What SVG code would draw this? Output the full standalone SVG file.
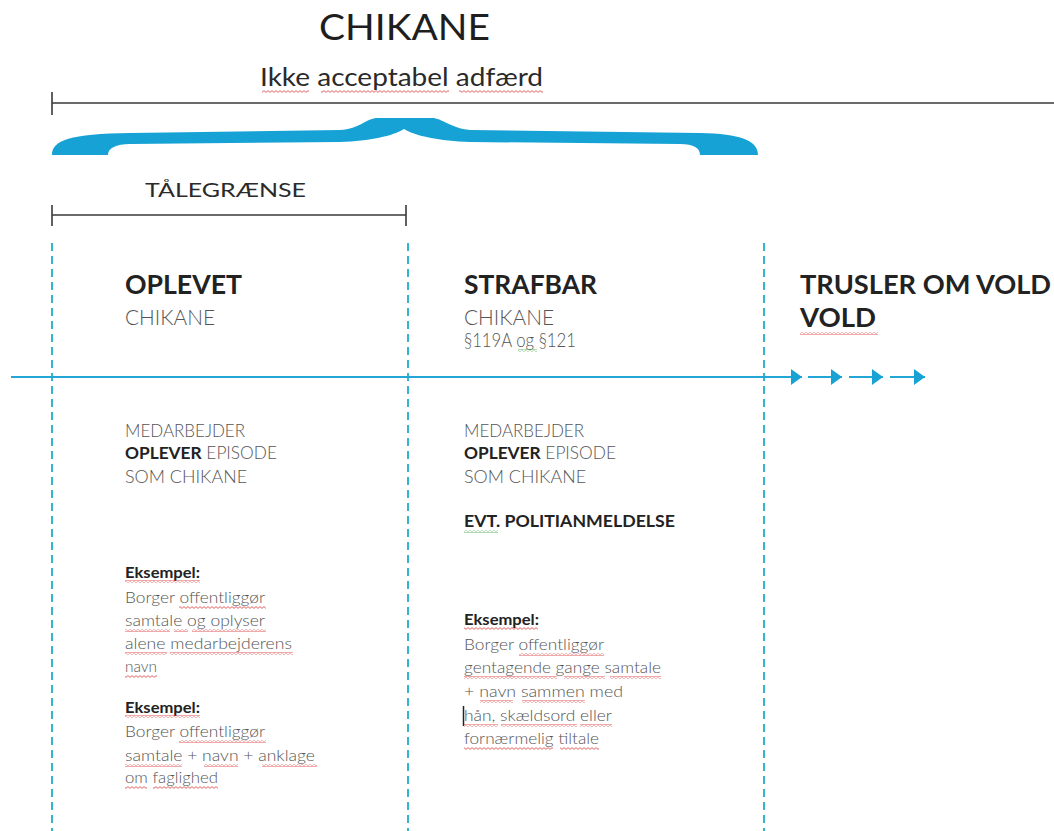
<svg xmlns="http://www.w3.org/2000/svg" width="1054" height="831" viewBox="0 0 1054 831">
<style>
text{font-family:Lato,"Open Sans","Liberation Sans",sans-serif}
.h{font-size:36px;fill:#1e1e1e}
.sub{font-size:25px;fill:#2a2a2a}
.tal{font-size:20px;fill:#2a2a2a}
.head{font-size:27px;font-weight:700;fill:#222}
.head2{font-size:22px;font-weight:300;fill:#555}
.para{font-size:19px;font-weight:300;fill:#555}
.cap{font-size:17.5px;font-weight:300;fill:#555}
.b{font-weight:700;fill:#222}
.evt{font-size:17.5px;font-weight:700;fill:#222}
.ex{font-size:16px;font-weight:700;fill:#222}
.body{font-size:16px;font-weight:300;fill:#555}
.rule{stroke:#3a3a3a;stroke-width:1.6;fill:none}
.dash{stroke:#35b4cf;stroke-width:2;stroke-dasharray:8 5;fill:none}
.tl{stroke:#22a6d6;stroke-width:2;fill:none}
.sq{fill:url(#wr)}
.sg{fill:url(#wg)}
</style>
<defs>
<marker id="ah" markerUnits="userSpaceOnUse" markerWidth="11" markerHeight="16" refX="11" refY="8" orient="auto">
<path d="M0,0 L11,8 L0,16 Z" fill="#18a3d4"/>
</marker>
<pattern id="wr" width="4" height="3" patternUnits="userSpaceOnUse">
<path d="M0,0.6 L2,2.4 L4,0.6" stroke="#dd3a3a" stroke-width="0.8" fill="none"/>
</pattern>
<pattern id="wg" width="4" height="3" patternUnits="userSpaceOnUse">
<path d="M0,0.6 L2,2.4 L4,0.6" stroke="#4caa4c" stroke-width="0.8" fill="none"/>
</pattern>
</defs>

<g id="title">
<text class="h" x="319" y="40" textLength="171" lengthAdjust="spacingAndGlyphs">CHIKANE</text>
<text class="sub" x="260" y="86" textLength="283" lengthAdjust="spacingAndGlyphs">Ikke acceptabel adfærd</text>
<rect class="sq" x="262" y="90" width="47" height="3"/>
<rect class="sq" x="321" y="90" width="128" height="3"/>
<rect class="sq" x="459" y="90" width="84" height="3"/>
<path class="rule" d="M52,103 H1054 M52,92 V115"/>
</g>

<g id="brace">
<path fill="#17a2d5" d="M52,155 C52,140 70,134 130,133 L340,130 C360,129 366,118 378,118 L432,118 C442,118 450,128 470,130 L700,133 C740,134 758,140 758,155 L700,155 C700,148 694,144 680,144 L470,142 C440,141 415,136 404,129 C393,136 370,141 340,142 L130,144 C116,144 108,148 108,155 Z"/>
</g>

<g id="taalegraense">
<text class="tal" x="145" y="197" textLength="161" lengthAdjust="spacingAndGlyphs">TÅLEGRÆNSE</text>
<path class="rule" d="M52,215 H406 M52,205 V226 M406,205 V226"/>
</g>

<g id="dividers">
<path class="dash" d="M52,243 V831"/>
<path class="dash" d="M408,243 V831"/>
<path class="dash" d="M764,243 V831"/>
</g>

<g id="connectors">
<line class="tl" x1="11" y1="377" x2="802" y2="377" marker-end="url(#ah)"/>
<line class="tl" x1="808" y1="377" x2="842" y2="377" marker-end="url(#ah)"/>
<line class="tl" x1="849" y1="377" x2="883" y2="377" marker-end="url(#ah)"/>
<line class="tl" x1="890" y1="377" x2="925" y2="377" marker-end="url(#ah)"/>
</g>

<g id="col-oplevet">
<text class="head" x="125" y="294" textLength="117" lengthAdjust="spacingAndGlyphs">OPLEVET</text>
<text class="head2" x="125" y="325" textLength="90" lengthAdjust="spacingAndGlyphs">CHIKANE</text>
<text class="cap" x="125" y="437" textLength="120" lengthAdjust="spacingAndGlyphs">MEDARBEJDER</text>
<text class="cap" x="125" y="459" textLength="152" lengthAdjust="spacingAndGlyphs"><tspan class="b">OPLEVER</tspan> EPISODE</text>
<text class="cap" x="125" y="483" textLength="122" lengthAdjust="spacingAndGlyphs">SOM CHIKANE</text>
<text class="ex" x="125" y="578" textLength="75" lengthAdjust="spacingAndGlyphs">Eksempel:</text>
<text class="body" x="125" y="603" textLength="140" lengthAdjust="spacingAndGlyphs">Borger offentliggør</text>
<text class="body" x="125" y="626" textLength="140" lengthAdjust="spacingAndGlyphs">samtale og oplyser</text>
<text class="body" x="125" y="649" textLength="167" lengthAdjust="spacingAndGlyphs">alene medarbejderens</text>
<text class="body" x="125" y="672" textLength="32" lengthAdjust="spacingAndGlyphs">navn</text>
<text class="ex" x="125" y="713" textLength="75" lengthAdjust="spacingAndGlyphs">Eksempel:</text>
<text class="body" x="125" y="737" textLength="140" lengthAdjust="spacingAndGlyphs">Borger offentliggør</text>
<text class="body" x="125" y="761" textLength="190" lengthAdjust="spacingAndGlyphs">samtale + navn + anklage</text>
<text class="body" x="125" y="783" textLength="93" lengthAdjust="spacingAndGlyphs">om faglighed</text>
<rect class="sq" x="125" y="580" width="75" height="3"/>
<rect class="sq" x="179" y="606" width="87" height="3"/>
<rect class="sq" x="125" y="629" width="45" height="3"/>
<rect class="sq" x="174" y="629" width="14" height="3"/>
<rect class="sq" x="192" y="629" width="74" height="3"/>
<rect class="sq" x="125" y="652" width="42" height="3"/>
<rect class="sq" x="170" y="652" width="123" height="3"/>
<rect class="sq" x="125" y="675" width="32" height="3"/>
<rect class="sq" x="125" y="715" width="75" height="3"/>
<rect class="sq" x="179" y="740" width="87" height="3"/>
<rect class="sq" x="125" y="764" width="57" height="3"/>
<rect class="sq" x="204" y="764" width="34" height="3"/>
<rect class="sq" x="262" y="764" width="55" height="3"/>
<rect class="sq" x="125" y="786" width="22" height="3"/>
<rect class="sq" x="153" y="786" width="65" height="3"/>
</g>

<g id="col-strafbar">
<text class="head" x="464" y="294" textLength="133" lengthAdjust="spacingAndGlyphs">STRAFBAR</text>
<text class="head2" x="464" y="325" textLength="90" lengthAdjust="spacingAndGlyphs">CHIKANE</text>
<text class="para" x="464" y="347" textLength="112" lengthAdjust="spacingAndGlyphs">§119A og §121</text>
<rect class="sg" x="518" y="349" width="19" height="3"/>
<text class="cap" x="464" y="437" textLength="120" lengthAdjust="spacingAndGlyphs">MEDARBEJDER</text>
<text class="cap" x="464" y="459" textLength="152" lengthAdjust="spacingAndGlyphs"><tspan class="b">OPLEVER</tspan> EPISODE</text>
<text class="cap" x="464" y="483" textLength="122" lengthAdjust="spacingAndGlyphs">SOM CHIKANE</text>
<text class="evt" x="464" y="527" textLength="211" lengthAdjust="spacingAndGlyphs">EVT. POLITIANMELDELSE</text>
<rect class="sg" x="464" y="530" width="34" height="3"/>
<text class="ex" x="464" y="625" textLength="75" lengthAdjust="spacingAndGlyphs">Eksempel:</text>
<text class="body" x="464" y="650" textLength="140" lengthAdjust="spacingAndGlyphs">Borger offentliggør</text>
<text class="body" x="464" y="673" textLength="197" lengthAdjust="spacingAndGlyphs">gentagende gange samtale</text>
<text class="body" x="464" y="697" textLength="159" lengthAdjust="spacingAndGlyphs">+ navn sammen med</text>
<text class="body" x="464" y="721" textLength="148" lengthAdjust="spacingAndGlyphs">hån, skældsord eller</text>
<text class="body" x="464" y="744" textLength="135" lengthAdjust="spacingAndGlyphs">fornærmelig tiltale</text>
<line x1="463.5" y1="706" x2="463.5" y2="726" stroke="#222" stroke-width="1.5"/>
<rect class="sq" x="464" y="627" width="74" height="3"/>
<rect class="sq" x="519" y="653" width="85" height="3"/>
<rect class="sq" x="464" y="676" width="93" height="3"/>
<rect class="sq" x="564" y="676" width="41" height="3"/>
<rect class="sq" x="610" y="676" width="51" height="3"/>
<rect class="sq" x="480" y="700" width="33" height="3"/>
<rect class="sq" x="522" y="700" width="63" height="3"/>
<rect class="sq" x="464" y="724" width="34" height="3"/>
<rect class="sq" x="501" y="724" width="76" height="3"/>
<rect class="sq" x="580" y="724" width="32" height="3"/>
<rect class="sq" x="464" y="747" width="89" height="3"/>
<rect class="sq" x="560" y="747" width="39" height="3"/>
</g>

<g id="col-trusler">
<text class="head" x="800" y="294" textLength="251" lengthAdjust="spacingAndGlyphs">TRUSLER OM VOLD</text>
<text class="head" x="800" y="327" textLength="76" lengthAdjust="spacingAndGlyphs">VOLD</text>
<rect class="sq" x="800" y="332" width="78" height="3"/>
</g>
</svg>
